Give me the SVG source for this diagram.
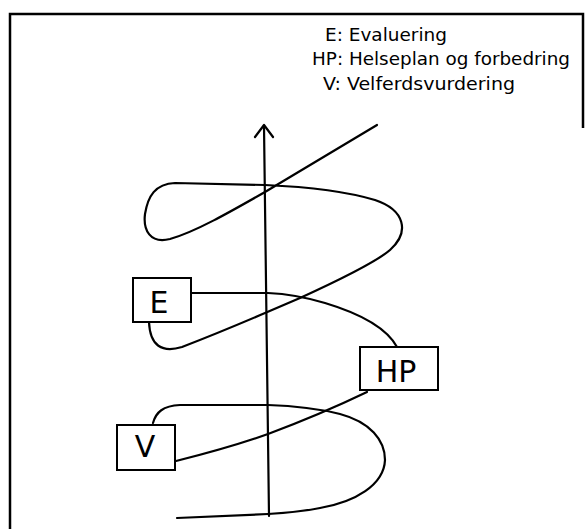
<svg xmlns="http://www.w3.org/2000/svg" width="585" height="529" viewBox="0 0 585 529">
<style>
.frame{fill:none;stroke:#000;stroke-width:2.5}
.curve{fill:none;stroke:#000;stroke-width:2.2;stroke-linecap:round;stroke-linejoin:round}
.box{fill:#fff;stroke:#000;stroke-width:2}
.lbl{font-family:"DejaVu Sans","Liberation Sans",sans-serif;font-size:30px;fill:#000;text-anchor:middle}
.leg{font-family:"DejaVu Sans","Liberation Sans",sans-serif;font-size:17px;fill:#000}
</style>
<rect width="585" height="529" fill="#fff"/>
<g id="frame">
<path class="frame" d="M10,529 L10,14 L583,14 L583,128"/>
</g>
<g id="legend">
<text class="leg" x="325" y="41" textLength="122" lengthAdjust="spacingAndGlyphs">E: Evaluering</text>
<text class="leg" x="312" y="65" textLength="258" lengthAdjust="spacingAndGlyphs">HP: Helseplan og forbedring</text>
<text class="leg" x="323" y="90" textLength="192" lengthAdjust="spacingAndGlyphs">V: Velferdsvurdering</text>
</g>
<g id="connectors">
<path id="axis" class="curve" d="M264,126 L269,516"/>
<path id="arrowhead" class="curve" d="M255,137 L264,125 L273,137"/>
<path id="spiral-top" class="curve" d="M377,125 L265,192 C230,212 195,232 170,239 C150,244 143,230 145,214 C148,196 155,184 175,183 L265,185 C310,187 345,191 375,200 C405,210 410,232 390,250 C375,263 335,282 300,298 L265,313 C230,328 200,340 182,347 C162,353 150,346 149,322"/>
<path id="e-hp" class="curve" d="M191,293 L268,293 C290,294 305,297 325,303 C355,312 385,325 397,347"/>
<path id="hp-v" class="curve" d="M367,392 C340,405 300,422 268,434 C240,444 200,455 176,461"/>
<path id="spiral-bottom" class="curve" d="M153,423 C156,412 163,406 180,405 L268,405 C300,406 320,409 340,414 C370,422 385,440 385,460 C384,485 355,502 320,508 C300,512 285,513 268,514 L177,518"/>
</g>
<g id="node-E">
<rect class="box" x="133" y="278" width="58" height="44"/>
<text class="lbl" x="159" y="313">E</text>
</g>
<g id="node-HP">
<rect class="box" x="360" y="347" width="78" height="43"/>
<text class="lbl" x="396" y="382">HP</text>
</g>
<g id="node-V">
<rect class="box" x="117" y="425" width="58" height="45"/>
<text class="lbl" x="145" y="457">V</text>
</g>
</svg>
